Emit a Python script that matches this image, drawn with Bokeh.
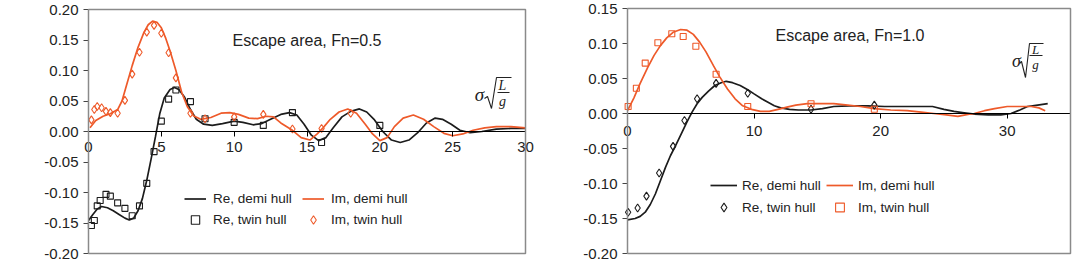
from bokeh.plotting import figure
from bokeh.layouts import row
from bokeh.models import (Range1d, FixedTicker, PrintfTickFormatter, Legend, LegendItem, LinearAxis,
                          BoxAnnotation)
from bokeh.core.properties import value
from bokeh.embed import file_html
from bokeh.resources import INLINE

# ---------------- data: Fn = 0.5 ----------------
a_demi_x = [0.1, 0.5, 1.0, 1.5, 2.0, 2.3, 2.6, 3.0, 3.4, 3.8, 4.1, 4.4, 4.7, 5.0, 5.3, 5.6, 6.0, 6.4, 6.8,
            7.2, 7.7, 8.4, 9.1, 9.7, 10.3, 11.0, 11.6, 12.2, 12.7, 13.2, 14.0, 14.6, 15.2, 15.7, 16.1, 16.6,
            17.2, 17.8, 18.4, 19.0, 19.5, 20.0, 20.5, 21.0, 21.6, 22.3, 23.0, 23.7, 24.4, 25.0, 25.7, 26.4,
            27.2, 28.0, 29.0, 30.0]
a_im_demi = [0.006, 0.018, 0.025, 0.029, 0.036, 0.050, 0.075, 0.108, 0.138, 0.162, 0.175, 0.181, 0.179, 0.170,
             0.153, 0.132, 0.100, 0.064, 0.040, 0.026, 0.020, 0.023, 0.030, 0.031, 0.028, 0.022, 0.021, 0.025,
             0.024, 0.014, 0.002, -0.010, -0.014, -0.004, 0.006, 0.020, 0.032, 0.037, 0.030, 0.012, -0.004,
             -0.015, -0.010, 0.008, 0.022, 0.027, 0.020, 0.008, -0.003, -0.007, -0.004, 0.002, 0.006, 0.008,
             0.008, 0.006]
a_re_x = [0.0, 0.3, 0.6, 0.9, 1.3, 1.7, 2.1, 2.5, 2.8, 3.1, 3.4, 3.7, 4.0, 4.3, 4.6, 4.9, 5.2, 5.6, 5.9, 6.2,
          6.6, 7.0, 7.4, 7.9, 8.5, 9.2, 10.0, 10.6, 11.3, 11.9, 12.5, 13.2, 13.8, 14.3, 14.8, 15.3, 15.8,
          16.3, 16.8, 17.4, 18.0, 18.6, 19.1, 19.6, 20.2, 20.8, 21.4, 22.0, 22.6, 23.2, 23.8, 24.3, 24.9,
          25.5, 26.2, 27.0, 28.0, 29.0, 30.0]
a_re_demi = [-0.146, -0.136, -0.127, -0.123, -0.125, -0.130, -0.136, -0.142, -0.145, -0.142, -0.130, -0.110,
             -0.080, -0.045, -0.008, 0.030, 0.055, 0.069, 0.072, 0.069, 0.056, 0.036, 0.020, 0.012, 0.010,
             0.013, 0.017, 0.015, 0.011, 0.013, 0.020, 0.028, 0.031, 0.027, 0.012, -0.006, -0.015, -0.010,
             0.006, 0.024, 0.033, 0.037, 0.032, 0.020, 0.000, -0.014, -0.018, -0.014, -0.002, 0.014, 0.022,
             0.020, 0.012, 0.002, -0.002, 0.000, 0.004, 0.005, 0.005]
a_twin_re_x = [0.2, 0.4, 0.6, 0.8, 1.2, 1.5, 2.0, 2.5, 3.0, 3.5, 4.0, 4.5, 5.0, 5.5, 6.0, 7.0, 8.0, 10.0,
               12.0, 14.0, 16.0, 20.0]
a_twin_re = [-0.154, -0.146, -0.122, -0.113, -0.103, -0.106, -0.117, -0.126, -0.138, -0.122, -0.085, -0.033,
             0.017, 0.053, 0.068, 0.049, 0.021, 0.015, 0.010, 0.031, -0.018, 0.010]
a_twin_im_x = [0.2, 0.4, 0.6, 0.9, 1.2, 1.5, 2.0, 2.5, 3.0, 3.5, 4.0, 4.5, 5.0, 5.5, 6.0, 7.0, 8.0, 10.0,
               12.0, 14.0, 16.0, 18.0]
a_twin_im = [0.019, 0.036, 0.041, 0.039, 0.033, 0.031, 0.030, 0.051, 0.094, 0.130, 0.163, 0.174, 0.161, 0.129,
             0.088, 0.030, 0.021, 0.024, 0.028, 0.004, 0.005, 0.030]
a_xticks = [0, 5, 10, 15, 20, 25, 30]
a_yticks = [-0.20, -0.15, -0.10, -0.05, 0.0, 0.05, 0.10, 0.15, 0.20]

# ---------------- data: Fn = 1.0 ----------------
b_im_x = [0.0, 0.5, 1.0, 1.6, 2.1, 2.6, 3.1, 3.6, 4.2, 4.7, 5.2, 5.7, 6.2, 6.8, 7.3, 7.9, 8.5, 9.1, 9.8, 10.5,
          11.2, 11.9, 12.6, 13.3, 14.2, 15.3, 16.3, 17.4, 18.4, 19.5, 20.8, 22.1, 23.2, 24.2, 25.2, 26.1,
          27.0, 27.4, 28.2, 29.0, 30.0, 31.0, 31.9, 32.5, 33.0]
b_im_demi = [0.004, 0.022, 0.043, 0.066, 0.083, 0.097, 0.108, 0.116, 0.120, 0.119, 0.113, 0.102, 0.088, 0.068,
             0.052, 0.035, 0.021, 0.011, 0.006, 0.003, 0.003, 0.006, 0.009, 0.012, 0.014, 0.014, 0.014, 0.012,
             0.010, 0.007, 0.005, 0.004, 0.002, 0.000, -0.002, -0.004, -0.001, 0.000, 0.004, 0.007, 0.010,
             0.010, 0.010, 0.008, 0.004]
b_re_x = [0.0, 0.6, 1.0, 1.4, 1.8, 2.2, 2.6, 3.0, 3.4, 3.8, 4.2, 4.7, 5.1, 5.5, 5.9, 6.4, 6.9, 7.4, 7.8, 8.3,
          8.9, 9.5, 10.0, 10.6, 11.1, 11.6, 12.1, 12.8, 13.5, 14.5, 15.4, 16.3, 17.5, 19.0, 20.3, 22.0, 24.1,
          25.0, 25.8, 26.6, 27.4, 28.5, 29.5, 30.3, 31.0, 31.6, 32.4, 33.2]
b_re_demi = [-0.152, -0.150, -0.147, -0.141, -0.130, -0.115, -0.096, -0.077, -0.060, -0.046, -0.031, -0.012,
             0.002, 0.014, 0.023, 0.032, 0.040, 0.044, 0.046, 0.044, 0.040, 0.034, 0.028, 0.021, 0.016, 0.011,
             0.008, 0.006, 0.005, 0.005, 0.007, 0.010, 0.011, 0.011, 0.010, 0.010, 0.010, 0.006, 0.003, 0.001,
             -0.001, -0.002, -0.002, 0.000, 0.005, 0.010, 0.012, 0.014]
b_twin_re_x = [0.05, 0.8, 1.5, 2.5, 3.6, 4.5, 5.5, 7.0, 9.5, 14.5, 19.5]
b_twin_re = [-0.141, -0.135, -0.118, -0.085, -0.047, -0.010, 0.021, 0.043, 0.029, 0.006, 0.012]
b_twin_im_x = [0.05, 0.7, 1.4, 2.4, 3.5, 4.4, 5.4, 7.0, 9.5, 14.5, 19.5]
b_twin_im = [0.010, 0.036, 0.072, 0.101, 0.114, 0.110, 0.096, 0.056, 0.010, 0.014, 0.006]
b_xticks = [0, 10, 20, 30]
b_yticks = [-0.20, -0.15, -0.10, -0.05, 0.0, 0.05, 0.10, 0.15]

ORANGE = "#EE5A2A"
BLACK = "#1C1C1C"
TXT = "#222222"
FONT = "Liberation Sans"
SERIF = "Liberation Serif"
H = 266


def style_axis(ax):
    ax.major_tick_out = 5
    ax.major_tick_in = 0
    ax.minor_tick_out = 0
    ax.minor_tick_in = 0
    ax.major_label_text_font = FONT
    ax.major_label_text_font_size = "15px"
    ax.major_label_text_color = TXT


def build(g):
    W = g["width"]
    fw = g["R"] - g["L"]
    fh = g["B"] - g["T"]
    dx = (g["x1"] - g["x0"]) / fw      # data units per pixel
    dy = (g["y1"] - g["y0"]) / fh
    # the canvas is the frame; the plotted box sits inside it, so edge tick labels are not clipped
    p = figure(width=W, height=H, output_backend="svg", toolbar_location=None,
               x_axis_location=None, y_axis_location=None, title=None,
               min_border_left=0, min_border_right=0, min_border_top=0, min_border_bottom=0)
    p.x_range = Range1d(g["x0"] - g["L"] * dx, g["x1"] + (W - g["R"]) * dx)
    p.y_range = Range1d(g["y0"] - (H - g["B"]) * dy, g["y1"] + g["T"] * dy)
    p.grid.visible = False
    p.outline_line_color = None
    p.background_fill_color = "white"
    p.border_fill_color = "white"

    p.add_layout(BoxAnnotation(left=g["x0"], right=g["x1"], bottom=g["y0"], top=g["y1"],
                               fill_alpha=0, line_color="#8a8a8a", line_width=1.5, line_alpha=1))

    ay = LinearAxis(fixed_location=g["x0"], ticker=FixedTicker(ticks=g["yticks"]),
                    formatter=PrintfTickFormatter(format="%.2f"), bounds=(g["y0"], g["y1"]))
    style_axis(ay)
    ay.major_label_standoff = 5
    ay.axis_line_color = "#444444"
    ay.major_tick_line_color = "#444444"
    p.add_layout(ay, "left")

    ax = LinearAxis(fixed_location=0, ticker=FixedTicker(ticks=g["xticks"]), bounds=(g["x0"], g["x1"]))
    style_axis(ax)
    ax.major_label_standoff = g["xlab_off"]
    ax.axis_line_color = "black"
    ax.axis_line_width = 1.2
    ax.major_tick_line_color = "black"
    p.add_layout(ax, "below")

    def px2x(px):
        return g["x0"] + (px - g["L"]) * dx

    def px2y(py):
        return g["y1"] - (py - g["T"]) * dy

    r_re = p.line(g["re_x"], g["re"], line_color=BLACK, line_width=1.7)
    r_im = p.line(g["im_x"], g["im"], line_color=ORANGE, line_width=1.7)
    r_tre = p.scatter(g["tre_x"], g["tre"], marker=g["re_marker"], size=g["re_size"], fill_alpha=0,
                      line_color=BLACK, line_width=1.1)
    r_tim = p.scatter(g["tim_x"], g["tim"], marker=g["im_marker"], size=g["im_size"], fill_alpha=0,
                      line_color=ORANGE, line_width=1.1)

    def leg(items, x):
        lg = Legend(items=items, location=(g["L"] + x, (H - g["B"]) + g["leg_y"]),
                    orientation="vertical",
                    glyph_width=g["gw"], glyph_height=g["lh"], label_height=g["lh"], spacing=0,
                    padding=0, margin=0, label_standoff=g["ls"], background_fill_alpha=0,
                    border_line_alpha=0, label_text_font=FONT, label_text_font_size="13.5px",
                    label_text_color=TXT)
        p.add_layout(lg)

    leg([LegendItem(label="Re, demi hull", renderers=[r_re]),
         LegendItem(label="Re, twin hull", renderers=[r_tre])], g["leg_x1"])
    leg([LegendItem(label="Im, demi hull", renderers=[r_im]),
         LegendItem(label="Im, twin hull", renderers=[r_tim])], g["leg_x2"])

    # chart title
    p.text(x=[px2x(g["title_px"][0])], y=[px2y(g["title_px"][1])], text=[g["title"]],
           text_align="left", text_baseline="middle", text_font=value(FONT),
           text_font_size="16px", text_color=TXT)

    # sigma * sqrt(L/g)
    m = g["math"]
    p.text(x=[px2x(m["sig"][0])], y=[px2y(m["sig"][1])], text=["σ"], text_align="center",
           text_baseline="middle", text_font=value(SERIF), text_font_style="italic",
           text_font_size=m["fs"], text_color=TXT)
    p.text(x=[px2x(m["L"][0]), px2x(m["g"][0])], y=[px2y(m["L"][1]), px2y(m["g"][1])],
           text=["L", "g"], text_align="center", text_baseline="middle", text_font=value(SERIF),
           text_font_style="italic", text_font_size=m["fs2"], text_color=TXT)
    p.line([px2x(v[0]) for v in m["rad"]], [px2y(v[1]) for v in m["rad"]], line_color=TXT,
           line_width=1.1)
    p.line([px2x(v[0]) for v in m["bar"]], [px2y(v[1]) for v in m["bar"]], line_color=TXT,
           line_width=1.0)
    return p


gA = dict(width=560, L=88, R=525, T=9, B=253, x0=0, x1=30, y0=-0.20, y1=0.20,
          yticks=a_yticks, xticks=a_xticks, xlab_off=5,
          re_x=a_re_x, re=a_re_demi, im_x=a_demi_x, im=a_im_demi,
          tre_x=a_twin_re_x, tre=a_twin_re, tim_x=a_twin_im_x, tim=a_twin_im,
          re_marker="square", re_size=6, im_marker="diamond", im_size=8,
          leg_y=23.5, leg_x1=96, leg_x2=214, gw=22, lh=21, ls=7,
          title="Escape area, Fn=0.5", title_px=(232, 40),
          math=dict(sig=(479, 94), L=(502, 85), g=(502, 101), fs="19px", fs2="14px",
                    rad=[(484, 98), (487, 96), (491, 108), (496, 77), (511, 77)],
                    bar=[(497, 92), (509, 92)]))

gB = dict(width=517, L=67, R=510, T=8, B=253, x0=0, x1=35, y0=-0.20, y1=0.15,
          yticks=b_yticks, xticks=b_xticks, xlab_off=7,
          re_x=b_re_x, re=b_re_demi, im_x=b_im_x, im=b_im_demi,
          tre_x=b_twin_re_x, tre=b_twin_re, tim_x=b_twin_im_x, tim=b_twin_im,
          re_marker="diamond", re_size=8, im_marker="square", im_size=6,
          leg_y=35, leg_x1=83, leg_x2=199, gw=27, lh=22, ls=5,
          title="Escape area, Fn=1.0", title_px=(775 - 560, 35),
          math=dict(sig=(1016 - 560, 60), L=(1035 - 560, 49), g=(1035 - 560, 64), fs="18px", fs2="13px",
                    rad=[(1019 - 560, 63), (1021 - 560, 61), (1025 - 560, 77), (1029 - 560, 43),
                         (1043 - 560, 43)],
                    bar=[(1029 - 560, 55), (1042 - 560, 55)]))

p1 = build(gA)
p2 = build(gB)
layout = row(p1, p2)
open("out.html", "w").write(file_html(layout, INLINE))
